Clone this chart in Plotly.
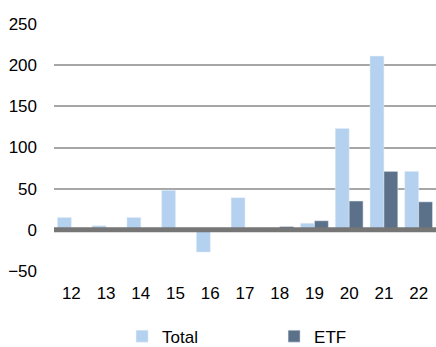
import plotly.graph_objects as go

categories = ["12", "13", "14", "15", "16", "17", "18", "19", "20", "21", "22"]
total = [15, 5, 15, 48, -27, 39, 2, 8, 123, 211, 71]
etf = [1, 1, 1, 1, 1, 1, 4, 11, 35, 71, 34]
y_ticks = [-50, 0, 50, 100, 150, 200, 250]

fig = go.Figure()
fig.add_trace(go.Bar(x=categories, y=total, name="Total", marker_color="#B4D1EF"))
fig.add_trace(go.Bar(x=categories, y=etf, name="ETF", marker_color="#5B7189"))

fig.add_shape(type="line", xref="paper", yref="y", x0=0, x1=1, y0=0, y1=0,
              line=dict(color="#767676", width=5), layer="above")

fig.update_layout(
    width=436, height=347,
    margin=dict(l=54, r=0, t=24, b=76, autoexpand=False),
    paper_bgcolor="white", plot_bgcolor="white",
    font=dict(family="Liberation Sans, Arial", size=17, color="#000"),
    barmode="group", bargap=0.2, bargroupgap=0,
    showlegend=True,
    legend=dict(orientation="h", xref="container", yref="container",
                x=0.28, y=0.03, xanchor="left", yanchor="middle",
                entrywidth=107, entrywidthmode="pixels",
                font=dict(size=17), itemwidth=30),
    xaxis=dict(type="category", showgrid=False, showline=False, ticks="",
               ticklabelstandoff=10),
    yaxis=dict(range=[-50, 250], tickvals=y_ticks, showgrid=True,
               gridcolor="#A6A6A6", gridwidth=1.5, zeroline=False,
               ticks="", ticklabelstandoff=16),
)

fig.write_html("out.html")
